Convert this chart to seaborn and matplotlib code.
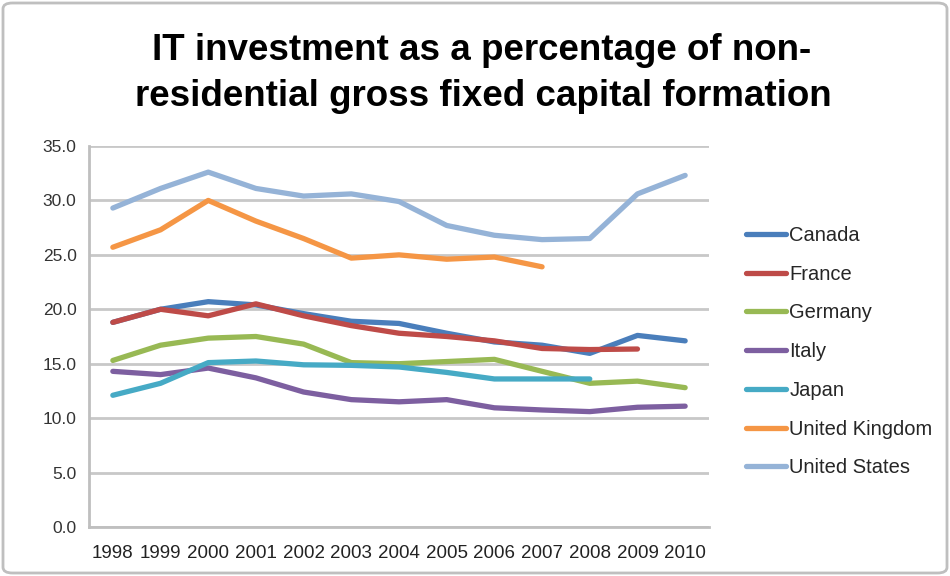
import matplotlib
matplotlib.use("Agg")
import matplotlib.pyplot as plt
import seaborn as sns
import pandas as pd
import numpy as np
from matplotlib.patches import FancyBboxPatch
from matplotlib.lines import Line2D

years = list(range(1998, 2011))
canada = [18.8, 20.0, 20.7, 20.4, 19.6, 18.9, 18.7, 17.8, 17.0, 16.7, 15.95, 17.6, 17.1]
france = [18.8, 20.0, 19.4, 20.5, 19.4, 18.5, 17.8, 17.5, 17.1, 16.4, 16.3, 16.35]
germany = [15.3, 16.7, 17.35, 17.5, 16.8, 15.1, 15.0, 15.2, 15.4, 14.3, 13.2, 13.4, 12.8]
italy = [14.3, 14.0, 14.6, 13.7, 12.4, 11.7, 11.5, 11.7, 10.95, 10.75, 10.6, 11.0, 11.1]
japan = [12.1, 13.2, 15.1, 15.25, 14.9, 14.85, 14.7, 14.2, 13.6, 13.6, 13.6]
uk = [25.7, 27.3, 30.0, 28.1, 26.5, 24.7, 25.0, 24.6, 24.8, 23.9]
us = [29.3, 31.1, 32.6, 31.1, 30.4, 30.6, 29.9, 27.7, 26.8, 26.4, 26.5, 30.6, 32.3]

countries = ["Canada", "France", "Germany", "Italy", "Japan", "United Kingdom", "United States"]
series = [canada, france, germany, italy, japan, uk, us]
colors = ["#4A7EBB", "#BE4B48", "#98B954", "#7D5FA0", "#46AAC5", "#F59645", "#95B3D7"]
yticks = [0, 5, 10, 15, 20, 25, 30, 35]

rows = []
for c, vals in zip(countries, series):
    for y, v in zip(years, vals):
        rows.append({"Year": y, "Value": v, "Country": c})
df = pd.DataFrame(rows)

sns.set_style("white")
plt.rcParams['font.family'] = ['Liberation Sans', 'DejaVu Sans']
plt.rcParams['lines.solid_capstyle'] = 'round'
plt.rcParams['lines.solid_joinstyle'] = 'round'

fig = plt.figure(figsize=(9.5, 5.76), dpi=100)
ax = fig.add_axes([89/950, 1-527/576, 620/950, (527-146)/576])

palette = dict(zip(countries, colors))
lw = 3.8
sns.lineplot(data=df, x="Year", y="Value", hue="Country", palette=palette,
             linewidth=lw, ax=ax, legend=False, sort=False, estimator=None)

ax.set_xlim(1997.5, 2010.5)
ax.set_ylim(0, 35)
ax.set_yticks(yticks)
ax.set_yticklabels([f"{v:.1f}" for v in yticks], fontsize=12.5, color="#333333")
ax.set_xticks(years)
ax.set_xticklabels([str(y) for y in years], fontsize=13.5, color="#222222")
ax.set_xticks(np.arange(1997.5, 2011, 1.0), minor=True)
ax.tick_params(axis='x', which='major', length=0, pad=13)
ax.tick_params(axis='x', which='minor', length=5, width=1.5, color="#BFBFBF", direction='out')
ax.tick_params(axis='y', length=5, width=1.5, color="#BFBFBF", direction='out', pad=4)
ax.set_xlabel("")
ax.set_ylabel("")
ax.grid(axis='y', color="#C8C8C8", linewidth=2)
ax.set_axisbelow(True)
for s in ["top", "right"]:
    ax.spines[s].set_visible(False)
for s in ["left", "bottom"]:
    ax.spines[s].set_color("#BFBFBF")
    ax.spines[s].set_linewidth(2)

handles = [Line2D([0], [0], color=c, linewidth=lw) for c in colors]
fig.legend(handles, countries, loc="upper left", bbox_to_anchor=(746/950, 1-226/576),
           frameon=False, fontsize=14.5, handlelength=2.0, handletextpad=0.15,
           labelspacing=0.98, borderaxespad=0, borderpad=0)

fig.text(0.507, 1-51/576, "IT investment as a percentage of non-", ha="center", va="center",
         fontsize=26.5, fontweight="bold", color="#000000")
fig.text(0.509, 1-96/576, "residential gross fixed capital formation", ha="center", va="center",
         fontsize=26.5, fontweight="bold", color="#000000")

border = FancyBboxPatch((3/950, 3/576), 944/950, 570/576, boxstyle="round,pad=0,rounding_size=0.01",
                        transform=fig.transFigure, fill=False, edgecolor="#BFBFBF", linewidth=2)
fig.patches.append(border)

fig.savefig("out.png", dpi=100)
